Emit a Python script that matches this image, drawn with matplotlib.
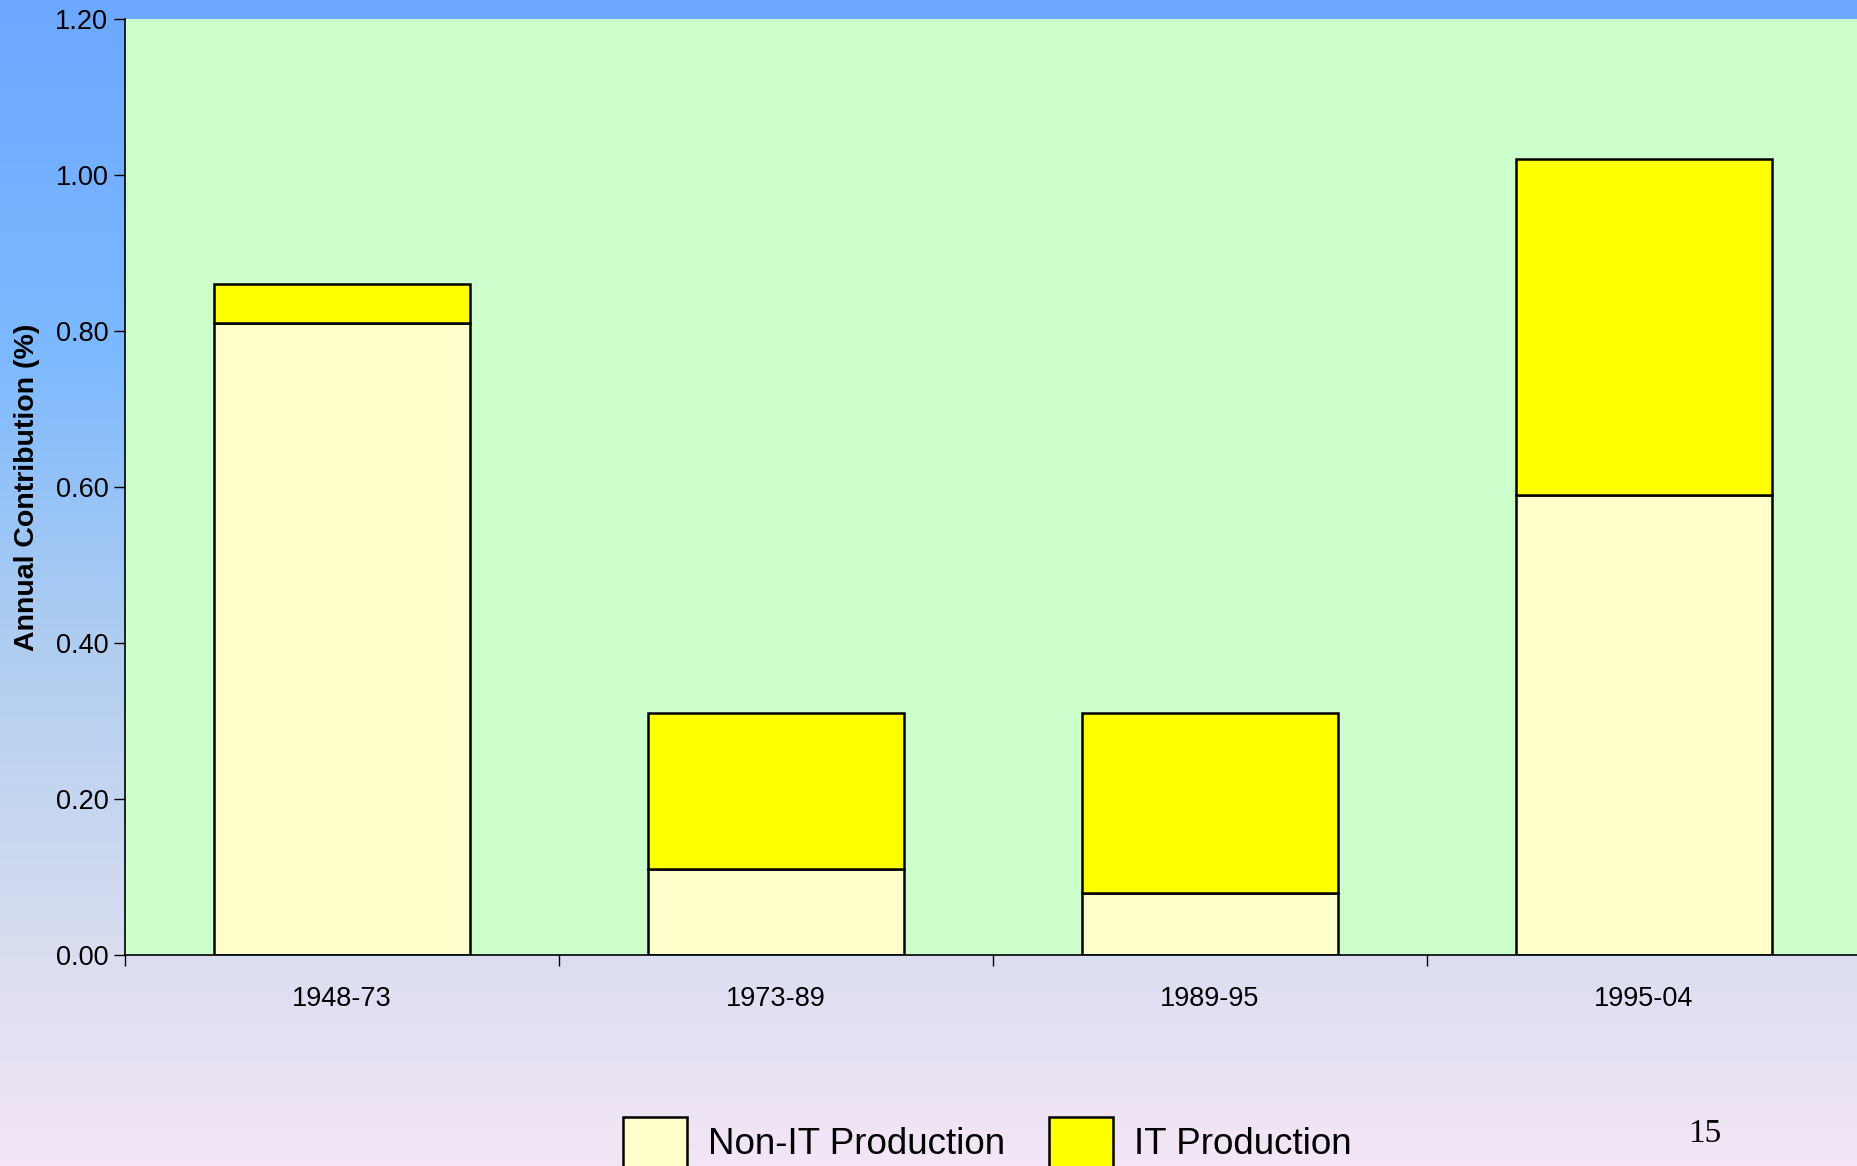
import numpy as np
import matplotlib.pyplot as plt
from matplotlib.colors import LinearSegmentedColormap
from matplotlib.patches import Patch

# -----------------------------
# Data
# -----------------------------
periods = ["1948-73", "1973-89", "1989-95", "1995-04"]
non_it = [0.81, 0.11, 0.08, 0.59]
it_prod = [0.05, 0.20, 0.23, 0.43]
series_names = ["Non-IT Production", "IT Production"]
yticks = [0.0, 0.2, 0.4, 0.6, 0.8, 1.0, 1.2]
page_number = "15"

plt.rcParams['font.family'] = ['Liberation Sans', 'DejaVu Sans']

fig = plt.figure(figsize=(18.58, 11.66), dpi=100)

# -----------------------------
# Slide background gradient
# -----------------------------
bg = fig.add_axes([0, 0, 1, 1], zorder=-10)
grad_cmap = LinearSegmentedColormap.from_list(
    "slide",
    [(0.0, "#6ca8ff"), (0.3, "#7db9ff"), (0.55, "#afcdf0"),
     (0.82, "#dadef0"), (1.0, "#f4e6f6")])
bg.imshow(np.linspace(0, 1, 256).reshape(-1, 1), aspect="auto",
          cmap=grad_cmap, extent=[0, 1, 0, 1], origin="upper")
bg.set_axis_off()

# -----------------------------
# Chart
# -----------------------------
ax = fig.add_axes([125 / 1858, 1 - 955 / 1166, 1736 / 1858, (955 - 19) / 1166])
ax.set_facecolor("#ccffcc")

x = np.arange(len(periods))
w = 0.59
ax.bar(x, non_it, w, color="#ffffcc", edgecolor="black", linewidth=1.8,
       label=series_names[0])
ax.bar(x, it_prod, w, bottom=non_it, color="#ffff00", edgecolor="black",
       linewidth=1.8, label=series_names[1])

ax.set_xlim(-0.5, len(periods) - 0.5)
ax.set_ylim(0, 1.2)
ax.set_yticks(yticks)
ax.set_yticklabels([f"{v:.2f}" for v in yticks], fontsize=19.5)
ax.set_xticks(x)
ax.set_xticklabels(periods, fontsize=19.5)
ax.set_xticks(np.arange(-0.5, len(periods)), minor=True)
ax.tick_params(axis="x", which="major", length=0, pad=22)
ax.tick_params(axis="x", which="minor", length=8, width=1)
ax.tick_params(axis="y", length=8, width=1, pad=4)

for s in ["top", "right"]:
    ax.spines[s].set_visible(False)
for s in ["left", "bottom"]:
    ax.spines[s].set_linewidth(1.2)

ax.set_ylabel("Annual Contribution (%)", fontsize=20.5, fontweight="bold",
              labelpad=11)

# -----------------------------
# Legend + page number
# -----------------------------
handles = [Patch(facecolor="#ffffcc", edgecolor="black", linewidth=1.8),
           Patch(facecolor="#ffff00", edgecolor="black", linewidth=1.8)]
fig.legend(handles, series_names, loc="upper left",
           bbox_to_anchor=(623 / 1858, 1 - 1117 / 1166), frameon=False,
           fontsize=26.5, handlelength=1.74, handleheight=1.74,
           handletextpad=0.57, columnspacing=1.2, ncol=2, borderaxespad=0,
           borderpad=0)

fig.text(1705 / 1858, 1 - 1134 / 1166, page_number, fontsize=24,
         family=["Liberation Serif", "DejaVu Serif"], ha="center", va="center")

fig.savefig("out.png", dpi=100)
